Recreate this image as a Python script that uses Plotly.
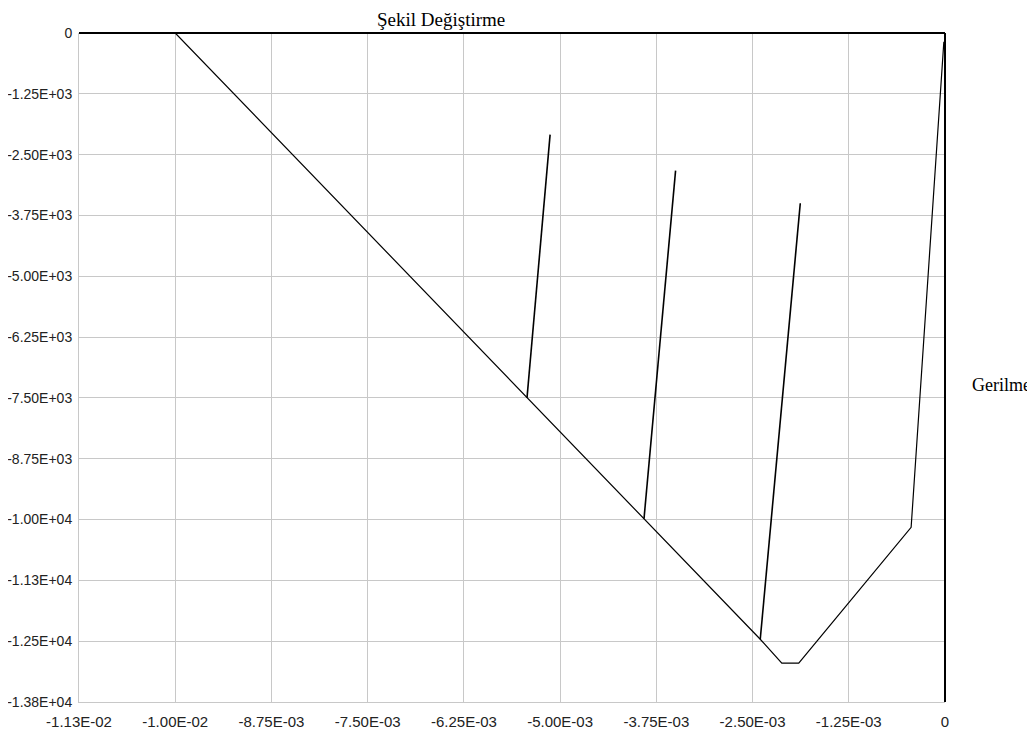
import plotly.graph_objects as go

# Envelope (loading path)
envelope_x = [-0.0100, -0.00543, -0.00391, -0.00240, -0.00212, -0.00190, -0.00044, -0.000015]
envelope_y = [0, -7500, -9980, -12460, -12950, -12950, -10160, -180]

# Unloading branches
unload1_x = [-0.00543, -0.00513]
unload1_y = [-7500, -2090]
unload2_x = [-0.00391, -0.00350]
unload2_y = [-9980, -2830]
unload3_x = [-0.00240, -0.00188]
unload3_y = [-12460, -3500]

x_tickvals = [-0.01125, -0.0100, -0.00875, -0.0075, -0.00625, -0.0050, -0.00375, -0.0025, -0.00125, 0]
x_ticktext = ["-1.13E-02", "-1.00E-02", "-8.75E-03", "-7.50E-03", "-6.25E-03",
              "-5.00E-03", "-3.75E-03", "-2.50E-03", "-1.25E-03", "0"]
y_tickvals = [0, -1250, -2500, -3750, -5000, -6250, -7500, -8750, -10000, -11250, -12500, -13750]
y_ticktext = ["0", "-1.25E+03", "-2.50E+03", "-3.75E+03", "-5.00E+03", "-6.25E+03",
              "-7.50E+03", "-8.75E+03", "-1.00E+04", "-1.13E+04", "-1.25E+04", "-1.38E+04"]

fig = go.Figure()
fig.add_trace(go.Scatter(x=envelope_x, y=envelope_y, mode="lines",
                         line=dict(color="black", width=1.2), showlegend=False))
for ux, uy in [(unload1_x, unload1_y), (unload2_x, unload2_y), (unload3_x, unload3_y)]:
    fig.add_trace(go.Scatter(x=ux, y=uy, mode="lines",
                             line=dict(color="black", width=1.6), showlegend=False))

fig.update_xaxes(range=[-0.01125, 0], tickvals=x_tickvals, ticktext=x_ticktext,
                 showgrid=True, gridcolor="#c8c8c8", gridwidth=1,
                 zeroline=True, zerolinecolor="black", zerolinewidth=1.5,
                 showline=True, linecolor="#c8c8c8", linewidth=1,
                 tickfont=dict(family="Liberation Sans, Arial", size=15, color="#222"),
                 ticks="", ticklabelstandoff=6, automargin=False)
fig.update_yaxes(range=[-13750, 0], tickvals=y_tickvals, ticktext=y_ticktext,
                 showgrid=True, gridcolor="#c8c8c8", gridwidth=1,
                 zeroline=True, zerolinecolor="black", zerolinewidth=1.5,
                 showline=True, linecolor="#c8c8c8", linewidth=1,
                 tickfont=dict(family="Liberation Sans, Arial", size=14, color="#222"),
                 ticks="", ticklabelstandoff=3, automargin=False)

fig.add_annotation(text="Şekil Değiştirme", xref="paper", yref="paper",
                   x=0.418, y=1.0389, xanchor="center", yanchor="top", showarrow=False,
                   font=dict(family="Liberation Serif, Times New Roman", size=19, color="black"))
fig.add_annotation(text="Gerilme", xref="paper", yref="paper",
                   x=1.1016, y=0.474, xanchor="right", yanchor="middle", showarrow=False,
                   font=dict(family="Liberation Serif, Times New Roman", size=18, color="black"))

fig.update_layout(width=1027, height=726, plot_bgcolor="white", paper_bgcolor="white",
                  margin=dict(l=71, r=90, t=25, b=32, autoexpand=False), showlegend=False)
fig.write_html("out.html")
